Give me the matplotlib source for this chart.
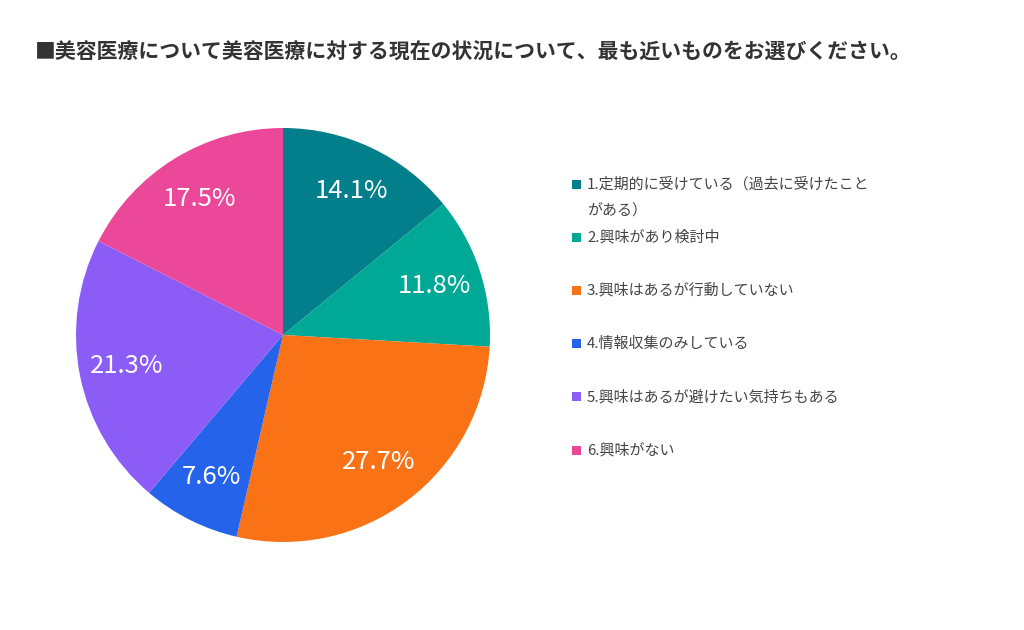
import matplotlib
matplotlib.use('Agg')
import matplotlib.pyplot as plt
from matplotlib.patches import Rectangle

plt.rcParams['font.family'] = ['Noto Sans CJK JP', 'DejaVu Sans']

# data
title = '■美容医療について美容医療に対する現在の状況について、最も近いものをお選びください。'
labels = ['1.定期的に受けている（過去に受けたこと\nがある）',
          '2.興味があり検討中',
          '3.興味はあるが行動していない',
          '4.情報収集のみしている',
          '5.興味はあるが避けたい気持ちもある',
          '6.興味がない']
values = [14.1, 11.8, 27.7, 7.6, 21.3, 17.5]
colors = ['#037F8C', '#00A896', '#F97316', '#2563EB', '#8B5CF6', '#EC4899']

fig = plt.figure(figsize=(10.24, 6.3), dpi=100)

# pie, center (283,335) r=207 in pixels
cx, cy, r = 283, 335, 207
pie_ax = fig.add_axes([(cx - r) / 1024, (630 - cy - r) / 630, 2 * r / 1024, 2 * r / 630])
pie_ax.pie(values, colors=colors, startangle=90, counterclock=False,
           autopct='%.1f%%', pctdistance=0.77,
           textprops=dict(color='white', fontsize=18.5),
           wedgeprops=dict(linewidth=0))
pie_ax.set_xlim(-1, 1)
pie_ax.set_ylim(-1, 1)
pie_ax.set_aspect('equal')

# overlay in pixel coords for title + legend
ov = fig.add_axes([0, 0, 1, 1])
ov.set_xlim(0, 1024)
ov.set_ylim(630, 0)
ov.axis('off')

ov.text(35, 52, title, fontsize=15, fontweight='bold', color='#333333',
        va='center', ha='left')

y0 = 184
step = 53.2
for i, (lab, col) in enumerate(zip(labels, colors)):
    y = y0 + i * step
    ov.add_patch(Rectangle((572, y - 4.5), 9, 9, color=col, lw=0))
    for j, line in enumerate(lab.split('\n')):
        ov.text(587, y + j * 27, line, fontsize=10.8, color='#444444',
                va='center', ha='left')

fig.savefig('out.png', dpi=100)
